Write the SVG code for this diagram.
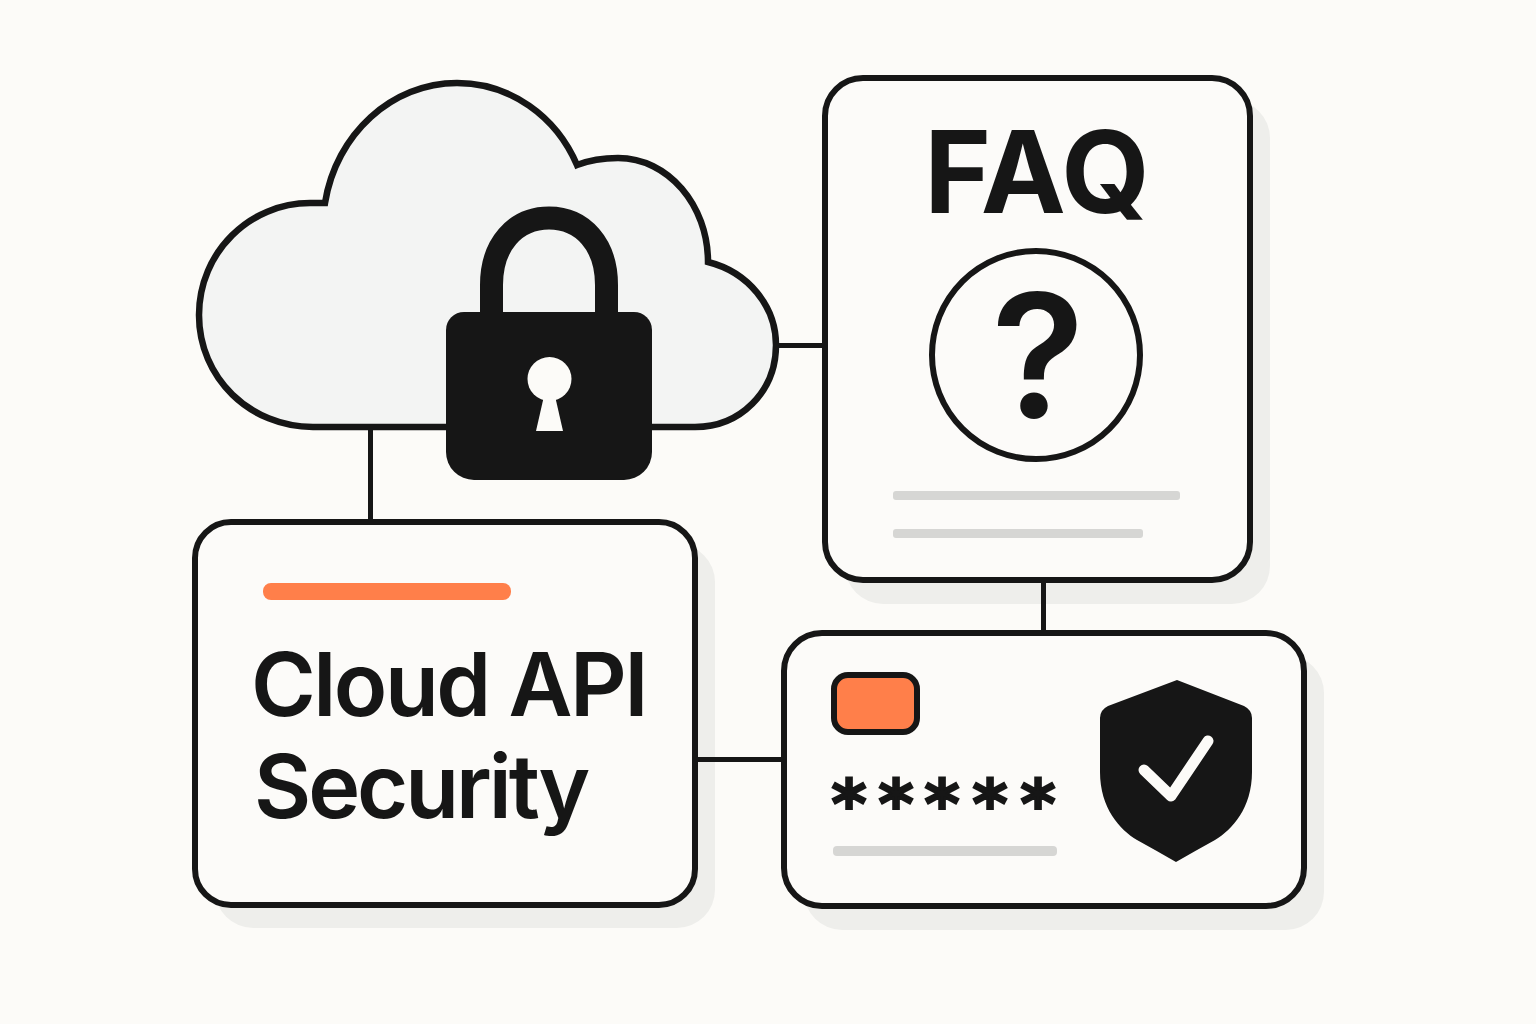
<svg xmlns="http://www.w3.org/2000/svg" width="1536" height="1024" viewBox="0 0 1536 1024">
<style>
.card{fill:#fcfbf9;stroke:#161616;stroke-width:6}
.shadow{fill:#eeeeeb}
.bar{fill:#d6d6d4}
.ink{fill:#161616}
.conn{stroke:#161616;stroke-width:5;fill:none}
.t{fill:#161616;font-family:Inter,"Liberation Sans",sans-serif}
</style>
<rect width="1536" height="1024" fill="#fcfbf8"/>
<g id="cloud">
<path d="M313 427 C250 427 199 378 199 315 C199 252 250 203 310 203 L325 203 C336 134 392 83 457 83 C510 83 556 116 577 165 C590 160 605 158 618 158 C668 158 708 205 708 262 C748 272 776 306 776 345 C776 392 740 427 695 427 Z" fill="#f3f4f3" stroke="#161616" stroke-width="6.500" stroke-linejoin="miter"/>
</g>
<g id="lock">
<path d="M491.500 320 V285 C491.500 245 515 218 549 218 C583 218 606.500 245 606.500 285 V320" fill="none" stroke="#161616" stroke-width="23"/>
<path class="ink" d="M464 312 H634 A18 18 0 0 1 652 330 V452 A28 28 0 0 1 624 480 H474 A28 28 0 0 1 446 452 V330 A18 18 0 0 1 464 312 Z"/>
<circle cx="549.500" cy="379" r="22" fill="#fcfbf8"/>
<path d="M544 396 H555 L563 431 H536 Z" fill="#fcfbf8"/>
</g>
<g id="card-cloud-api">
<rect class="shadow" x="215" y="544" width="500" height="384" rx="38"/>
<rect class="card" x="195" y="522" width="500" height="383" rx="36"/>
<rect x="263" y="583" width="248" height="17" rx="8" fill="#ff7f4a"/>
<text class="t" x="251" y="716" font-size="88" font-weight="600" letter-spacing="-2.500">Cloud API</text>
<text class="t" x="254" y="818" font-size="88" font-weight="600" letter-spacing="-3.100">Security</text>
</g>
<g id="card-faq">
<rect class="shadow" x="845" y="100" width="425" height="504" rx="38"/>
<rect class="card" x="825" y="78" width="425" height="502" rx="38"/>
<text class="t" x="1037" y="213" font-size="114" font-weight="700" text-anchor="middle">FAQ</text>
<circle cx="1036" cy="355" r="104" fill="none" stroke="#161616" stroke-width="6"/>
<text class="t" x="1038" y="418" font-size="172" font-weight="600" text-anchor="middle">?</text>
<rect class="bar" x="893" y="491" width="287" height="9" rx="3"/>
<rect class="bar" x="893" y="529" width="250" height="9" rx="3"/>
</g>
<g id="card-credentials">
<rect class="shadow" x="804" y="655" width="520" height="275" rx="38"/>
<rect class="card" x="784" y="633" width="520" height="273" rx="38"/>
<rect x="834" y="675" width="83" height="57" rx="14" fill="#ff7f4a" stroke="#161616" stroke-width="6"/>
<text class="t" x="849 896 942 990 1038" y="828" font-size="68" font-weight="700" text-anchor="middle" stroke="#161616" stroke-width="2" style="font-family:'DejaVu Sans',sans-serif">*****</text>
<rect class="bar" x="833" y="846" width="224" height="10" rx="4"/>
<path class="ink" d="M1177 680 L1244 706 Q1252 710 1252 718 V772 C1252 808 1232 830 1215 840 Q1195 851 1176 862 Q1157 851 1137 840 C1120 830 1100 808 1100 772 V718 Q1100 710 1108 706 Z"/>
<path d="M1144 770 L1171 796 L1208 741" fill="none" stroke="#fcfbf8" stroke-width="11" stroke-linecap="round" stroke-linejoin="round"/>
</g>
<g id="connectors">
<line class="conn" x1="370.500" y1="429" x2="370.500" y2="520"/>
<line class="conn" x1="778" y1="345.500" x2="823" y2="345.500"/>
<line class="conn" x1="1043.500" y1="582" x2="1043.500" y2="631"/>
<line class="conn" x1="697" y1="759.500" x2="782" y2="759.500"/>
</g>
</svg>
